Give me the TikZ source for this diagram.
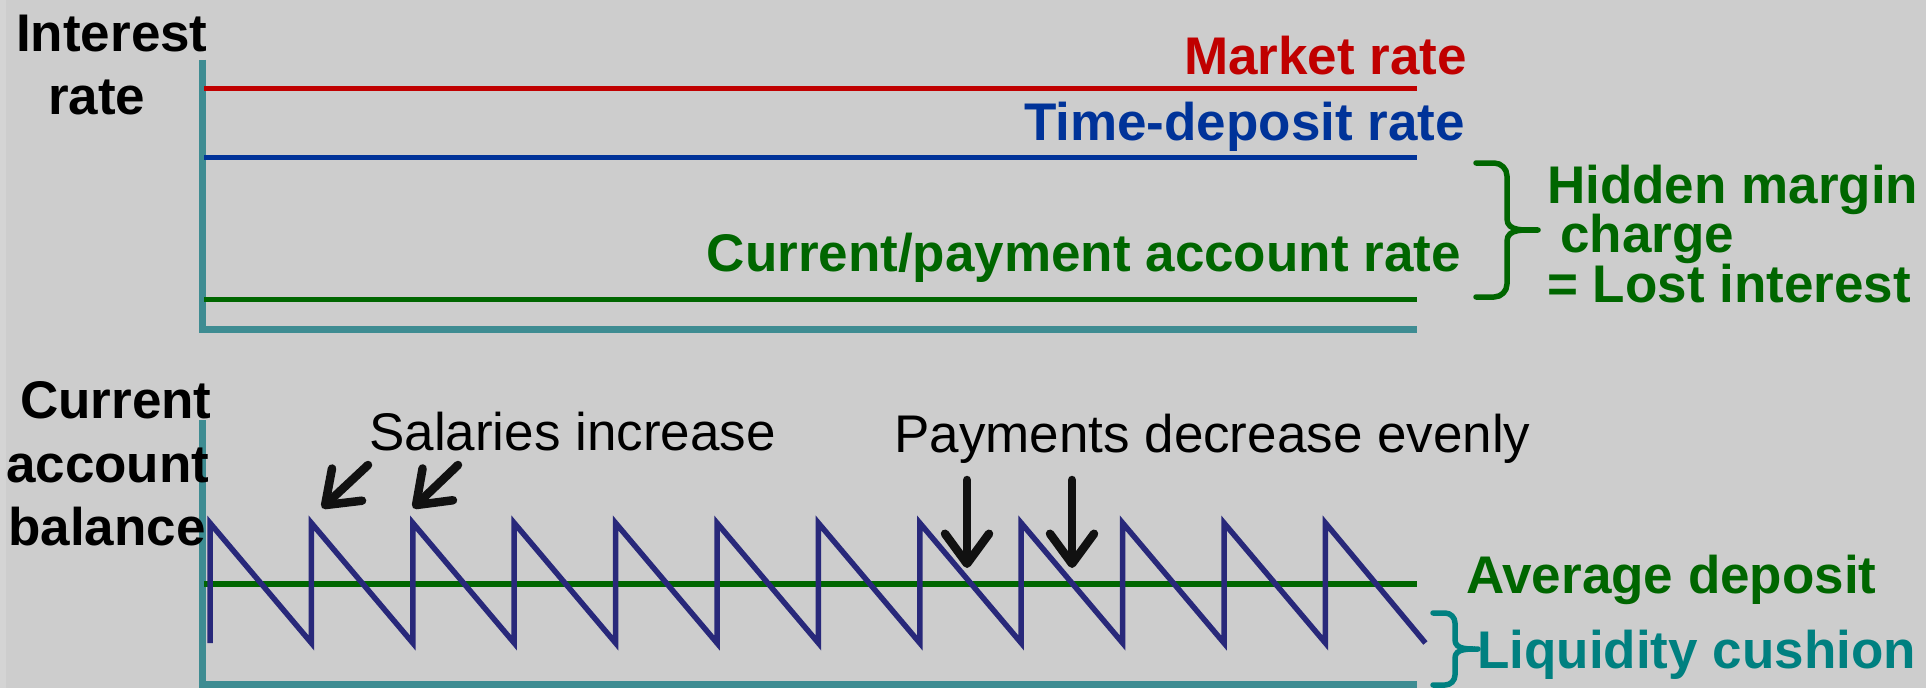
\documentclass[tikz,border=0pt]{standalone}
\usepackage{fontspec}
\setmainfont{Liberation Sans}
\usetikzlibrary{arrows.meta}
\definecolor{bg}{RGB}{205,205,205}
\definecolor{bgedge}{RGB}{212,212,212}
\definecolor{axisteal}{RGB}{62,140,146}
\definecolor{mktred}{RGB}{192,0,0}
\definecolor{tdblue}{RGB}{0,51,153}
\definecolor{curgreen}{RGB}{0,102,0}
\definecolor{sawnavy}{RGB}{40,40,122}
\definecolor{cushteal}{RGB}{0,128,128}
\definecolor{arrowblack}{RGB}{17,17,17}
\begin{document}
\begin{tikzpicture}[x=1pt,y=-1pt,
  lbl/.style={inner sep=0pt, font=\fontsize{53}{60}\selectfont\bfseries},
  note/.style={inner sep=0pt, font=\fontsize{53}{60}\selectfont},
  axisline/.style={draw=axisteal, line width=7pt},
  rateline/.style={line width=5pt},
  pointer/.style={draw=arrowblack, line width=8.5pt, line cap=round,
    -{Straight Barb[length=30pt,width=44pt,round]}},
  bracket/.style={line width=5.5pt, line cap=round, line join=round}]
% canvas
\fill[bg] (0,0) rectangle (1926,687.5);
\fill[bgedge] (0,0) rectangle (6,687.5);
\useasboundingbox (0,0) rectangle (1926,687.5);

% ---------- upper panel: interest rates ----------
\coordinate (ta) at (202,60);
\coordinate (to) at (202,329);
\coordinate (te) at (1417,329);
\draw[axisline] (ta) -- (to) -- (te);

\coordinate (r0) at (204,89);   \coordinate (r1) at (1417,89);
\coordinate (b0) at (204,157);  \coordinate (b1) at (1417,157);
\coordinate (g0) at (204,299);  \coordinate (g1) at (1417,299);
\draw[rateline, mktred] (r0) -- (r1);
\draw[rateline, tdblue] (b0) -- (b1);
\draw[rateline, curgreen] (g0) -- (g1);

\node[lbl, anchor=base west] (ylab1) at (16,52) {Interest};
\node[lbl, anchor=base west] (ylab2) at (48,115) {rate};
\node[lbl, text=mktred, anchor=base east] (mkt) at (1467,75) {Market rate};
\node[lbl, text=tdblue, anchor=base east] (tdr) at (1465,140) {Time-deposit rate};
\node[lbl, text=curgreen, anchor=base east] (car) at (1461,271) {Current/payment account rate};

% brace for the hidden margin
\draw[bracket, curgreen]
  (1476,163) -- (1494,163) to[out=0,in=90] (1507,176) -- (1507,219)
  to[out=-90,in=180] (1538,230)
  (1476,297) -- (1494,297) to[out=0,in=-90] (1507,284) -- (1507,241)
  to[out=90,in=180] (1538,230);
\node[lbl, text=curgreen, anchor=base west] (hm1) at (1547,203) {Hidden margin};
\node[lbl, text=curgreen, anchor=base west] (hm2) at (1560,252) {charge};
\node[lbl, text=curgreen, anchor=base west] (hm3) at (1547,302) {= Lost interest};

% ---------- lower panel: current account balance ----------
\coordinate (ba) at (202,420);
\coordinate (bo) at (202,684);
\coordinate (be) at (1417,684);
\draw[axisline] (ba) -- (bo) -- (be);

\coordinate (a0) at (204,584); \coordinate (a1) at (1417,584);
\draw[rateline, curgreen, line width=5.5pt] (a0) -- (a1);

% saw-tooth balance: jump up on salary day, then even decline
\draw[sawnavy, line width=5.5pt]
  (210,643) -- (210,523)
  \foreach \i in {1,...,11} { -- ({210+101.4*\i},643) -- ({210+101.4*\i},523) }
  -- (1425.4,643);

\node[lbl, anchor=base west] (cl1) at (20,418) {Current};
\node[lbl, anchor=base west] (cl2) at (6,482) {account};
\node[lbl, anchor=base west] (cl3) at (8,545) {balance};

\node[note, anchor=base west] (sal) at (369,450) {Salaries increase};
\node[note, anchor=base west] (pay) at (894,452) {Payments decrease evenly};

\coordinate (s1a) at (368,465); \coordinate (s1b) at (322,508);
\coordinate (s2a) at (458,465); \coordinate (s2b) at (413,508);
\coordinate (p1a) at (967,480); \coordinate (p1b) at (967,568);
\coordinate (p2a) at (1072,480); \coordinate (p2b) at (1072,568);
\draw[pointer] (s1a) -- (s1b);
\draw[pointer] (s2a) -- (s2b);
\draw[pointer] (p1a) -- (p1b);
\draw[pointer] (p2a) -- (p2b);

\node[lbl, text=curgreen, anchor=base west] (avg) at (1466,593) {Average deposit};

% brace for the liquidity cushion
\draw[bracket, cushteal]
  (1433,613) -- (1445,613) to[out=0,in=90] (1455,623) -- (1455,640)
  to[out=-90,in=180] (1478,649)
  (1433,685) -- (1445,685) to[out=0,in=-90] (1455,675) -- (1455,658)
  to[out=90,in=180] (1478,649);
\node[lbl, text=cushteal, anchor=base west] (liq) at (1477,668) {Liquidity cushion};
\end{tikzpicture}
\end{document}
